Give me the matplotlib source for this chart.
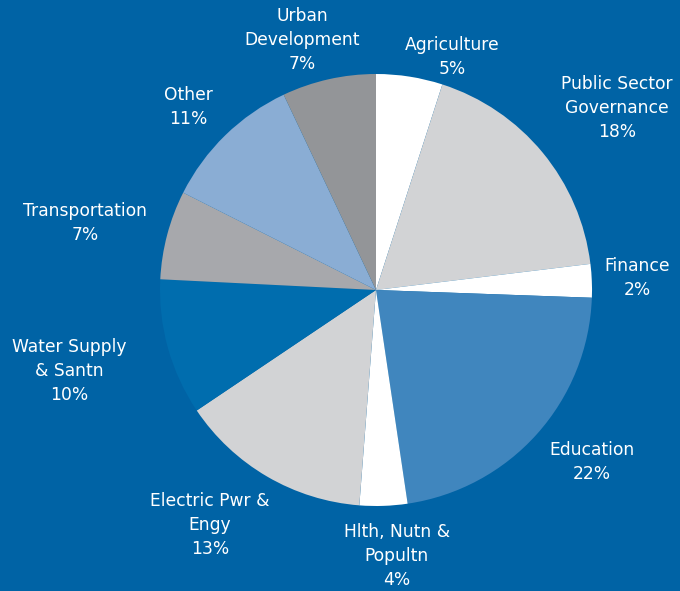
import matplotlib
matplotlib.use("Agg")
import matplotlib.pyplot as plt

# Data (clockwise from 12 o'clock)
categories = ["Agriculture", "Public Sector\nGovernance", "Finance", "Education",
              "Hlth, Nutn &\nPopultn", "Electric Pwr &\nEngy", "Water Supply\n& Santn",
              "Transportation", "Other", "Urban\nDevelopment"]
shares = [4.97, 18.10, 2.50, 22.09, 3.57, 14.35, 10.21, 6.65, 10.53, 7.03]
pct_labels = ["5%", "18%", "2%", "22%", "4%", "13%", "10%", "7%", "11%", "7%"]

colors = ["#FFFFFF", "#D2D3D5", "#FFFFFF", "#4086BE", "#FFFFFF", "#D2D3D5",
          "#006DAE", "#A7A8AC", "#8AADD4", "#939598"]
label_pos = [(452, 57), (617, 108), (637, 278), (592, 462), (397, 556),
             (210, 525), (69, 371), (85, 223), (188, 107), (302, 40)]

W, H = 680, 591
bg = "#0063A5"
fig = plt.figure(figsize=(W / 100, H / 100), dpi=100, facecolor=bg)

cx, cy, r = 376, 290, 216
ax = fig.add_axes([(cx - r) / W, (H - cy - r) / H, 2 * r / W, 2 * r / H])
ax.set_facecolor(bg)
ax.pie(shares, colors=colors, startangle=90, counterclock=False, radius=1,
       wedgeprops=dict(linewidth=0))
ax.set_xlim(-1, 1)
ax.set_ylim(-1, 1)
ax.axis("off")

for name, pct, (x, y) in zip(categories, pct_labels, label_pos):
    fig.text(x / W, 1 - y / H, f"{name}\n{pct}", color="white", fontsize=12.3,
             family="DejaVu Sans", ha="center", va="center",
             multialignment="center", linespacing=1.42)

fig.savefig("out.png", dpi=100, facecolor=bg)
